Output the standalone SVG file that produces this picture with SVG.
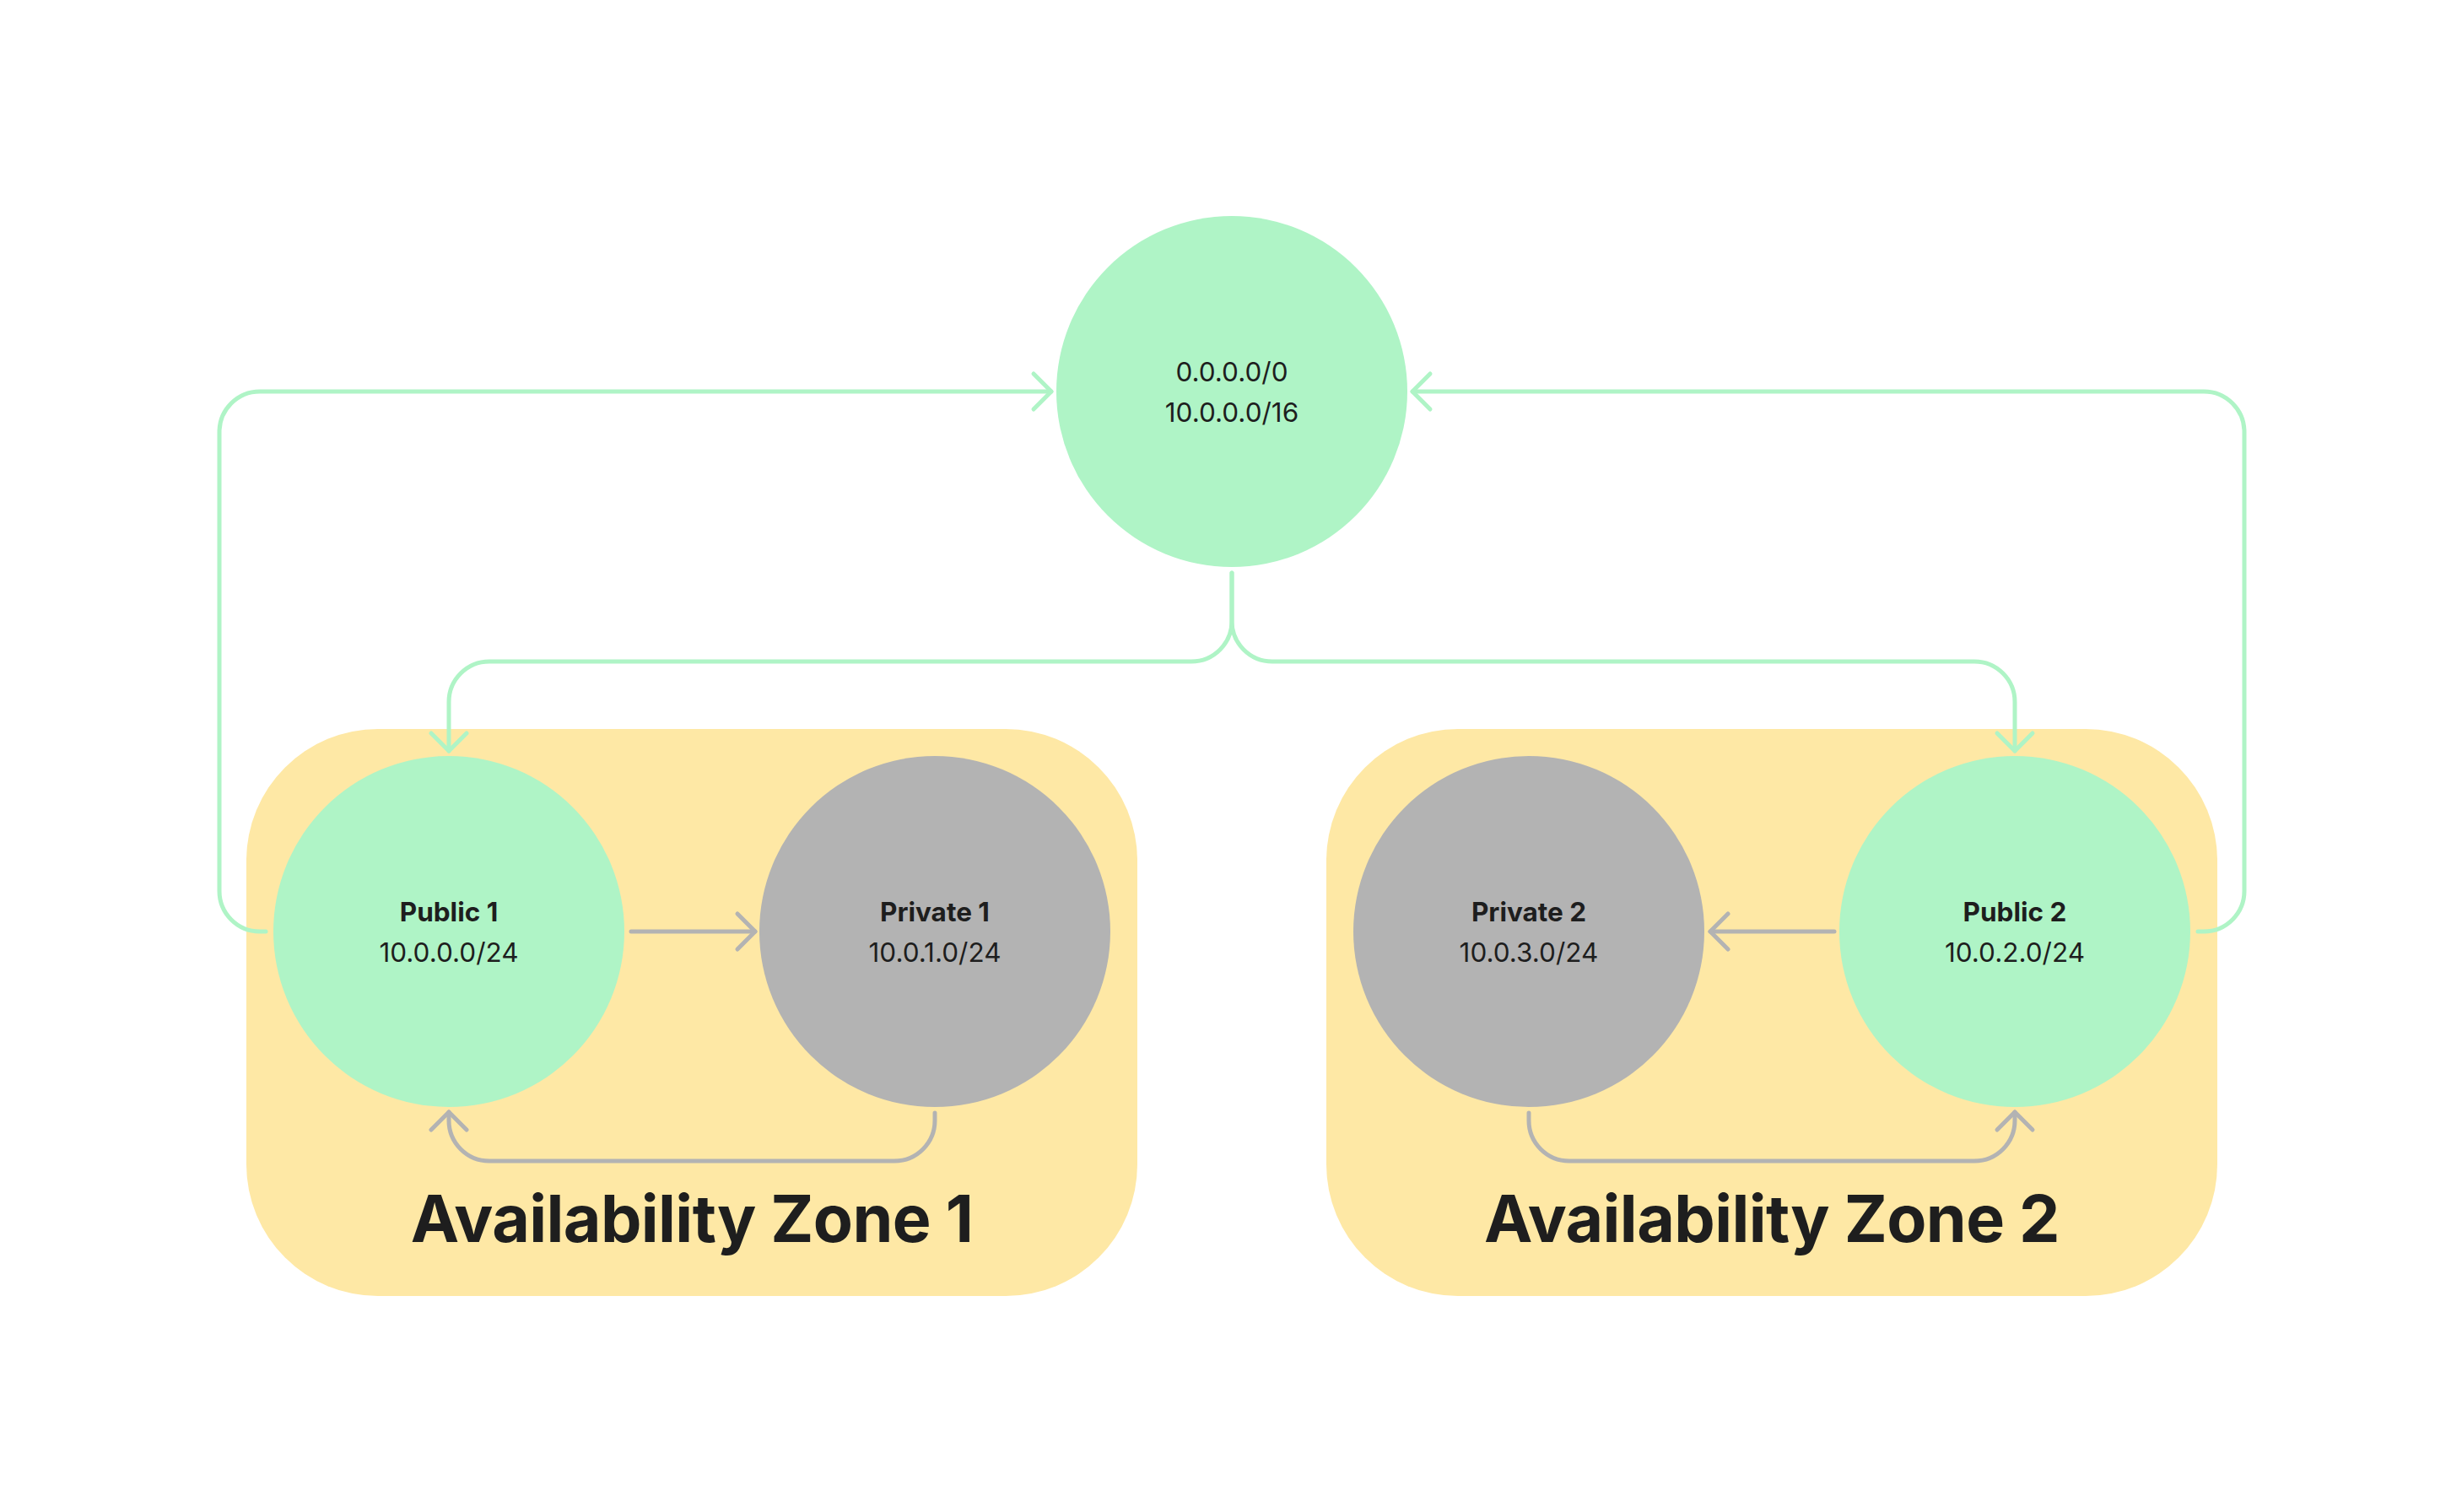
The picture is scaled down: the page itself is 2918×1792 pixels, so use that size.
<svg xmlns="http://www.w3.org/2000/svg" width="2918" height="1792" viewBox="0 0 2918 1792">
  <style>
    .zone { fill: #FEE8A5; }
    .pub { fill: #AFF4C6; }
    .priv { fill: #B3B3B3; }
    .g { fill: none; stroke: #AFF4C6; stroke-width: 5; stroke-linecap: round; stroke-linejoin: round; }
    .k { fill: none; stroke: #B3B3B3; stroke-width: 5; stroke-linecap: round; stroke-linejoin: round; }
    .t { font-family: Inter, "Noto Sans", "Liberation Sans", sans-serif; font-size: 31.5px; fill: #1E1E1E; text-anchor: middle; }
    .b { font-weight: 700; }
    .zt { font-family: Inter, "Noto Sans", "Liberation Sans", sans-serif; font-size: 77px; font-weight: 700; letter-spacing: -0.6px; fill: #1E1E1E; text-anchor: middle; }
  </style>
  <defs>
    <marker id="ag" markerUnits="userSpaceOnUse" markerWidth="60" markerHeight="60" viewBox="-30 -30 60 60" refX="0" refY="0" orient="auto">
      <path d="M-21,-21 L0,0 L-21,21" fill="none" stroke="#AFF4C6" stroke-width="5" stroke-linecap="round" stroke-linejoin="round"/>
    </marker>
    <marker id="ak" markerUnits="userSpaceOnUse" markerWidth="60" markerHeight="60" viewBox="-30 -30 60 60" refX="0" refY="0" orient="auto">
      <path d="M-21,-21 L0,0 L-21,21" fill="none" stroke="#B3B3B3" stroke-width="5" stroke-linecap="round" stroke-linejoin="round"/>
    </marker>
  </defs>
  <rect width="2918" height="1792" fill="#FFFFFF"/>

  <g id="zone1">
    <rect class="zone" x="292" y="864" width="1056" height="672" rx="156" ry="156"/>
    <text class="zt" x="820" y="1472">Availability Zone 1</text>
  </g>
  <g id="zone2">
    <rect class="zone" x="1572" y="864" width="1056" height="672" rx="156" ry="156"/>
    <text class="zt" x="2100" y="1472">Availability Zone 2</text>
  </g>

  <g id="connectors">
    <path class="g" d="M1460 679 V736 A48 48 0 0 1 1412 784 H580 A48 48 0 0 0 532 832 V890" marker-end="url(#ag)"/>
    <path class="g" d="M1460 679 V736 A48 48 0 0 0 1508 784 H2340 A48 48 0 0 1 2388 832 V890" marker-end="url(#ag)"/>
    <path class="g" d="M315 1104 H308 A48 48 0 0 1 260 1056 V512 A48 48 0 0 1 308 464 H1246" marker-end="url(#ag)"/>
    <path class="g" d="M2605 1104 H2612 A48 48 0 0 0 2660 1056 V512 A48 48 0 0 0 2612 464 H1674" marker-end="url(#ag)"/>
    <path class="k" d="M748 1104 H895" marker-end="url(#ak)"/>
    <path class="k" d="M1108 1319 V1328 A48 48 0 0 1 1060 1376 H580 A48 48 0 0 1 532 1328 V1318" marker-end="url(#ak)"/>
    <path class="k" d="M2174 1104 H2027" marker-end="url(#ak)"/>
    <path class="k" d="M1812 1319 V1328 A48 48 0 0 0 1860 1376 H2340 A48 48 0 0 0 2388 1328 V1318" marker-end="url(#ak)"/>
  </g>

  <g id="internet">
    <circle class="pub" cx="1460" cy="464" r="208"/>
    <text class="t" x="1460" y="452">0.0.0.0/0</text>
    <text class="t" x="1460" y="500">10.0.0.0/16</text>
  </g>
  <g id="public1">
    <circle class="pub" cx="532" cy="1104" r="208"/>
    <text class="t b" x="532" y="1092">Public 1</text>
    <text class="t" x="532" y="1140">10.0.0.0/24</text>
  </g>
  <g id="private1">
    <circle class="priv" cx="1108" cy="1104" r="208"/>
    <text class="t b" x="1108" y="1092">Private 1</text>
    <text class="t" x="1108" y="1140">10.0.1.0/24</text>
  </g>
  <g id="private2">
    <circle class="priv" cx="1812" cy="1104" r="208"/>
    <text class="t b" x="1812" y="1092">Private 2</text>
    <text class="t" x="1812" y="1140">10.0.3.0/24</text>
  </g>
  <g id="public2">
    <circle class="pub" cx="2388" cy="1104" r="208"/>
    <text class="t b" x="2388" y="1092">Public 2</text>
    <text class="t" x="2388" y="1140">10.0.2.0/24</text>
  </g>
</svg>
